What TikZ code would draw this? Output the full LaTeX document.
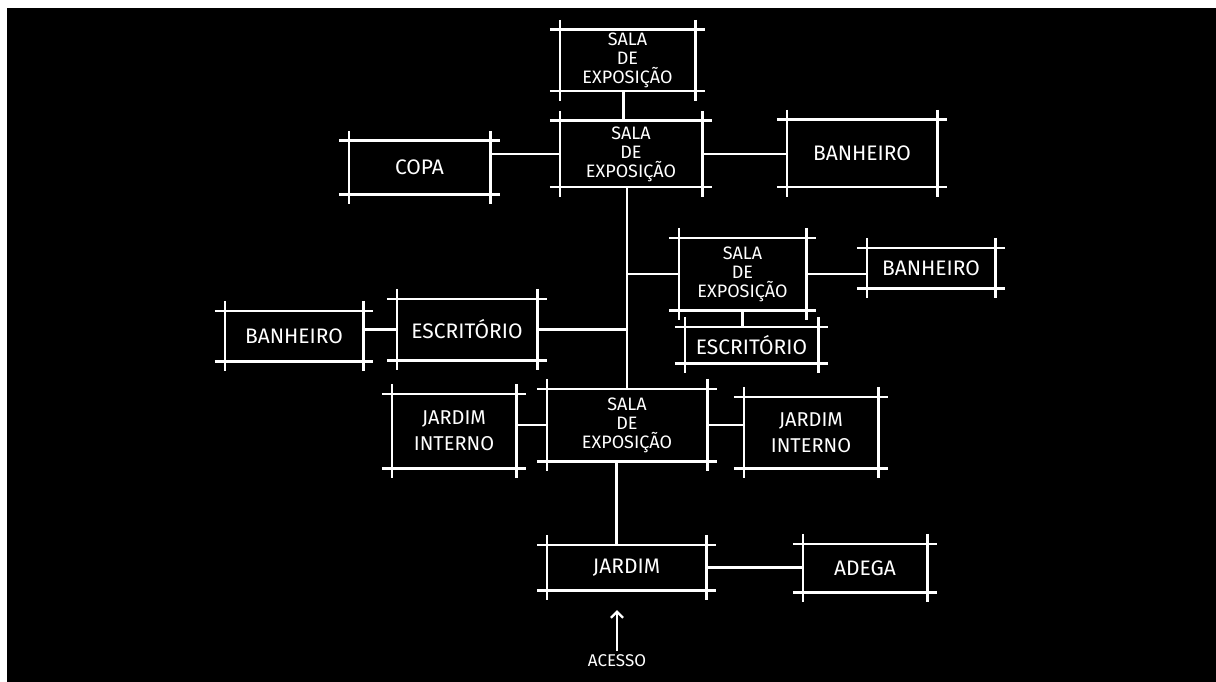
\documentclass[tikz,border=0pt]{standalone}
\usepackage{fontspec}
\setmainfont{Fira Sans}
\usetikzlibrary{arrows.meta}
\tikzset{
  room/.style={inner sep=0pt, text=white, align=center, font=\fontsize{21}{24}\selectfont},
  sala/.style={room, font=\fontsize{18}{19}\selectfont},
  wall/.style={white, line width=2.6pt},
  link/.style={white, line width=2.2pt},
}
\begin{document}
\begin{tikzpicture}[x=1pt,y=-1pt]
\useasboundingbox (0,0) rectangle (1216,682);
\fill[black] (7,8) rectangle (1216,682);
% rooms
\node[sala, minimum width=135pt, minimum height=61pt] (salaA) at (627.5,60.5) {SALA\\DE\\EXPOSIÇÃO};
\node[sala, minimum width=142pt, minimum height=66pt] (salaB) at (631,154) {SALA\\DE\\EXPOSIÇÃO};
\node[room, minimum width=141pt, minimum height=53pt] (copa) at (419.5,167.5) {COPA};
\node[room, minimum width=150pt, minimum height=67pt] (banA) at (862,153.5) {BANHEIRO};
\node[sala, minimum width=127pt, minimum height=72pt] (salaC) at (742.5,274) {SALA\\DE\\EXPOSIÇÃO};
\node[room, minimum width=128pt, minimum height=40pt] (banB) at (931,268) {BANHEIRO};
\node[room, minimum width=133pt, minimum height=36pt] (escB) at (751.5,345) {ESCRITÓRIO};
\node[room, minimum width=140pt, minimum height=61pt] (escA) at (467,329.5) {ESCRITÓRIO};
\node[room, minimum width=138pt, minimum height=50pt] (banC) at (294,336) {BANHEIRO};
\node[sala, minimum width=160pt, minimum height=72pt] (salaD) at (627,425) {SALA\\DE\\EXPOSIÇÃO};
\node[room, minimum width=124pt, minimum height=74pt, font=\fontsize{20}{26}\selectfont] (jintA) at (454,431) {JARDIM\\INTERNO};
\node[room, minimum width=134pt, minimum height=71pt, font=\fontsize{20}{26}\selectfont] (jintB) at (811,432.5) {JARDIM\\INTERNO};
\node[room, minimum width=159pt, minimum height=45pt] (jardim) at (626.5,567.5) {JARDIM};
\node[room, minimum width=124pt, minimum height=48pt] (adega) at (865,568) {ADEGA};
\node[text=white, font=\fontsize{17}{19}\selectfont] (acesso) at (617,661) {ACESSO};
% walls, drawn past the corners
\foreach \n in {salaA,salaB,copa,banA,salaC,banB,escB,escA,banC,salaD,jintA,jintB,jardim,adega} {
  \draw[wall] ([xshift=-10pt]\n.north west) -- ([xshift=10pt]\n.north east);
  \draw[wall] ([xshift=-10pt]\n.south west) -- ([xshift=10pt]\n.south east);
  \draw[wall] ([yshift=10pt]\n.north west) -- ([yshift=-10pt]\n.south west);
  \draw[wall] ([yshift=10pt]\n.north east) -- ([yshift=-10pt]\n.south east);
}
% links
\draw[link] ([xshift=-4pt]salaA.south) -- ([xshift=-4pt]salaA.south |- salaB.north);
\draw[link] (salaB.west) -- (salaB.west -| copa.east);
\draw[link] (salaB.east) -- (salaB.east -| banA.west);
\draw[link] (salaD.north) -- (salaD.north |- salaB.south);
\draw[link] (salaC.west) -- (salaC.west -| salaD.north);
\draw[link] (escA.east) -- (escA.east -| salaD.north);
\draw[link] (escA.west) -- (escA.west -| banC.east);
\draw[link] (salaC.east) -- (salaC.east -| banB.west);
\draw[link] (salaC.south) -- (salaC.south |- escB.north);
\draw[link] (salaD.west) -- (salaD.west -| jintA.east);
\draw[link] (salaD.east) -- (salaD.east -| jintB.west);
\draw[link] ([xshift=-10pt]jardim.north) -- ([xshift=-10pt]jardim.north |- salaD.south);
\draw[link] (jardim.east) -- (jardim.east -| adega.west);
\coordinate (entry) at ([yshift=-20pt]jardim.south);
\draw[link, -{Straight Barb[length=6pt,width=12pt]}] (acesso.north) -- (acesso.north |- entry);
\end{tikzpicture}
\end{document}
